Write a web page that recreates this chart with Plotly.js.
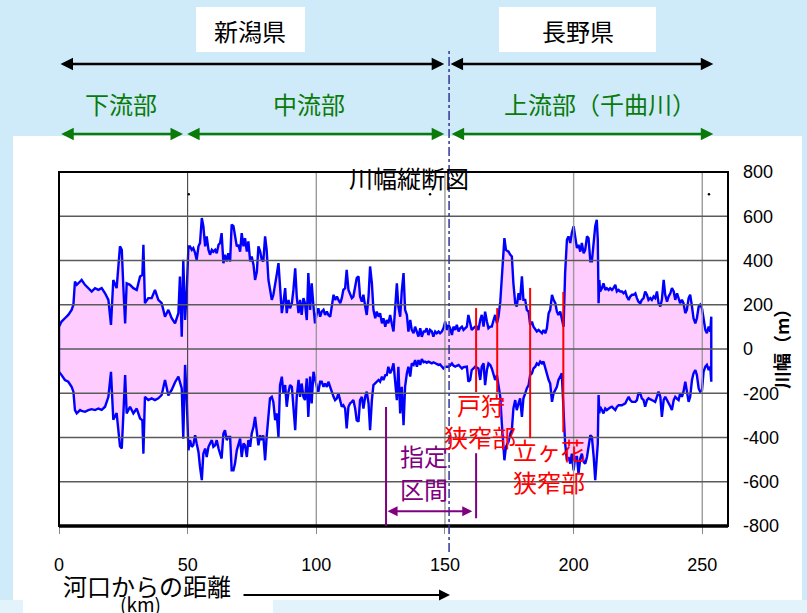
<!DOCTYPE html>
<html><head><meta charset="utf-8">
<script src="https://cdn.plot.ly/plotly-3.0.1.min.js"></script>
<style>html,body{margin:0;padding:0;background:#CFEBFA;}#chart{width:807px;height:613px;}</style>
</head><body><div id="chart"></div>
<script>
// distance from river mouth (km)
const riverKm = [
0.0,1.0,2.3,3.6,4.9,5.6,6.2,6.9,8.2,8.8,10.1,11.4,12.7,14.0,15.3,16.6,17.9,19.2,20.2,21.1,22.4,23.7,24.4,25.0,25.7,26.3,27.6,28.9,30.2,31.5,32.4,32.8,33.4,34.7,36.0,37.3,38.6,39.9,41.2,42.5,43.8,45.1,46.4,47.0,47.7,48.3,49.0,49.6,50.3,
50.9,51.6,52.2,52.9,53.5,54.2,54.8,55.5,56.1,56.8,57.4,58.1,58.7,59.4,60.0,60.7,61.3,62.0,62.6,63.2,63.9,64.5,65.2,65.8,66.5,67.1,67.8,68.4,69.1,69.7,70.4,71.0,71.7,72.3,73.0,73.6,74.3,74.9,75.6,76.2,76.9,77.5,78.2,78.8,79.4,80.1,80.7,81.4,82.0,82.7,83.3,84.0,84.6,85.3,85.9,86.6,87.2,87.9,88.5,89.2,89.8,90.5,91.1,91.8,92.4,93.1,93.7,94.3,95.0,95.6,96.3,96.9,97.6,98.2,98.9,99.5,
100.2,100.8,101.5,102.1,102.8,103.4,104.1,104.7,105.4,106.0,106.7,107.3,108.0,108.6,109.3,109.9,110.5,111.2,111.8,112.5,113.1,113.8,114.4,115.1,115.7,116.4,117.0,117.7,118.3,119.0,119.6,120.3,120.9,121.6,122.2,122.9,123.5,124.2,124.8,125.5,126.1,126.8,127.4,128.0,128.7,129.3,130.0,130.6,131.3,131.9,132.6,133.2,133.9,134.5,135.2,135.8,136.5,137.1,137.8,138.4,139.1,139.7,140.4,141.0,141.7,142.3,142.9,143.6,144.2,144.9,145.5,146.2,146.8,147.5,148.1,148.8,149.4,150.1,150.7,
151.4,152.0,152.7,153.3,154.0,154.6,155.3,155.9,156.6,157.2,157.9,158.5,159.1,159.8,160.4,161.1,161.7,162.4,163.0,163.7,164.3,165.0,165.6,166.3,166.9,167.6,168.2,168.9,169.5,170.2,170.8,171.5,172.1,172.8,173.1,173.7,174.7,175.4,176.0,176.6,177.3,177.9,178.6,179.2,179.9,180.5,181.2,181.8,182.5,183.1,183.8,184.4,185.1,185.7,186.4,187.0,187.7,188.3,189.0,189.6,190.3,190.9,191.6,192.2,192.9,193.5,194.1,194.8,195.4,196.1,196.7,197.4,198.0,198.7,199.3,200.0,200.6,
201.3,201.9,202.6,203.2,203.9,204.5,205.2,205.8,206.5,207.1,207.8,208.4,209.0,209.4,209.7,210.0,210.3,211.0,211.6,212.3,212.9,213.6,214.2,214.9,215.5,216.2,216.8,217.5,218.1,218.8,219.4,220.1,220.7,221.4,222.0,222.7,223.3,224.0,224.6,225.2,225.9,226.5,227.2,227.8,228.5,229.1,229.8,230.4,231.1,231.7,232.4,233.0,233.7,234.3,235.0,235.6,236.3,236.9,237.6,238.2,238.9,239.5,240.2,240.8,241.4,242.1,242.7,243.4,244.0,244.7,245.3,246.0,246.6,247.3,247.9,248.6,249.2,249.9,250.5,251.2,251.8,252.5,253.1,253.5
];
// upper half of river width (m)
const upperWidth = [
101,124,139,154,177,200,305,290,305,312,290,275,260,275,267,275,252,222,109,312,275,464,448,282,116,297,290,275,267,328,335,471,207,230,230,267,222,207,146,177,139,116,162,328,56,403,131,252,464,
464,448,456,433,403,464,479,592,555,464,509,448,426,448,440,448,433,471,479,524,388,426,396,433,396,562,555,516,464,471,440,524,464,501,440,486,396,418,380,312,350,464,440,403,396,509,448,312,260,222,244,305,335,388,267,162,207,275,162,222,184,207,267,365,237,162,222,154,230,207,131,343,177,297,192,116,
162,184,146,169,177,154,169,154,146,192,245,222,237,222,207,230,267,275,358,267,252,230,237,282,320,328,237,214,245,192,154,237,373,297,177,139,169,146,162,116,139,101,131,116,154,116,79,177,297,192,146,260,343,177,154,79,131,86,71,101,71,56,94,55,79,79,94,63,86,79,56,79,71,79,71,79,94,124,86,
109,94,63,101,86,109,79,94,101,86,94,101,154,116,86,94,101,101,86,131,154,101,169,124,94,101,101,131,154,116,146,214,328,418,501,448,440,426,418,297,207,192,252,222,328,222,222,177,169,109,124,101,86,79,86,79,71,86,71,94,162,177,245,222,207,169,154,169,131,101,343,494,509,479,524,555,509,
456,471,440,479,433,448,509,501,396,396,494,555,584,494,207,312,260,275,297,267,275,267,275,267,275,290,260,267,260,260,252,260,237,222,237,245,245,252,230,214,207,222,230,260,245,222,230,222,237,230,260,207,192,222,313,245,214,237,252,275,260,222,252,230,207,222,207,162,177,230,245,192,139,116,139,192,200,184,131,86,71,101,79,146
];
// lower half of river width (m)
const lowerWidth = [
-103,-118,-140,-148,-171,-193,-276,-291,-276,-280,-284,-276,-272,-276,-269,-275,-261,-216,-103,-320,-290,-440,-450,-300,-118,-291,-261,-291,-269,-314,-322,-473,-216,-231,-223,-231,-223,-208,-140,-210,-185,-150,-125,-150,-178,-405,-72,-216,-458,
-412,-442,-435,-390,-427,-465,-533,-593,-473,-450,-488,-442,-427,-412,-442,-435,-412,-450,-473,-495,-382,-367,-412,-397,-397,-548,-548,-518,-458,-435,-405,-488,-427,-435,-488,-412,-442,-382,-352,-307,-382,-435,-390,-412,-390,-503,-397,-291,-223,-216,-239,-322,-291,-397,-163,-125,-201,-163,-261,-193,-163,-171,-261,-367,-216,-140,-216,-156,-216,-231,-133,-307,-125,-246,-103,-125,
-171,-193,-148,-148,-171,-156,-171,-148,-171,-193,-216,-231,-223,-201,-231,-261,-254,-269,-359,-261,-246,-239,-231,-269,-322,-328,-231,-216,-269,-216,-193,-246,-367,-231,-163,-156,-148,-140,-148,-125,-140,-118,-118,-80,-110,-95,-65,-148,-231,-80,-291,-171,-344,-171,-110,-80,-125,-65,-72,-50,-80,-50,-72,-45,-60,-57,-62,-57,-62,-65,-60,-65,-68,-72,-70,-80,-88,-80,-80,
-80,-75,-65,-75,-80,-76,-72,-80,-88,-82,-80,-80,-148,-140,-95,-88,-80,-84,-88,-140,-80,-65,-163,-95,-65,-72,-88,-110,-140,-118,-171,-216,-337,-435,-503,-442,-420,-382,-367,-269,-231,-276,-246,-223,-307,-223,-201,-178,-163,-118,-110,-88,-80,-65,-72,-57,-65,-57,-80,-110,-140,-156,-239,-201,-186,-171,-140,-125,-110,-276,-427,-503,-488,-518,-473,-548,-488,
-488,-563,-495,-473,-510,-518,-488,-442,-390,-397,-488,-593,-520,-427,-208,-291,-261,-276,-291,-269,-276,-269,-265,-261,-268,-276,-262,-254,-254,-254,-250,-246,-231,-216,-231,-239,-239,-239,-231,-201,-201,-223,-231,-261,-231,-223,-226,-231,-235,-239,-215,-193,-216,-307,-231,-216,-230,-246,-260,-276,-231,-216,-225,-231,-201,-216,-193,-148,-186,-239,-216,-140,-110,-95,-118,-178,-193,-186,-103,-80,-72,-95,-80,-148
];
const tickKm = [0,50,100,150,200,250];
const tickWidth = [-800,-600,-400,-200,0,200,400,600,800];
const dotKm = [50.4,144.2,252.6];
const dotWidth = [700,700,700];
const prefNames = ['新潟県','長野県'];
const prefSpans = [[0,149.7],[151.6,254.3]];
const prefBoundaryKm = 151.6;
const reachNames = ['下流部','中流部','上流部（千曲川）'];
const reachSpans = [[0.3,48.2],[49.2,149.7],[152.0,254.3]];
const narrowKm = [162.1,170.3,183.1,196.0];
const narrowTop = [185,185,276,258];
const narrowBottom = [-195,-195,-403,-376];
const designatedKm = [127.1,162.1];
const designatedLineTop = [-262,-471];
const designatedLineBottom = [-800,-765];
const designatedArrowWidth = -733;

// layout geometry
const W = 807, H = 613, M = {l:59, r:79, t:172, b:87};
const pw = W - M.l - M.r, ph = H - M.t - M.b;
const fx = p => (p - M.l) / pw;
const fy = p => (H - M.b - p) / ph;

const JP = '"Noto Sans CJK JP", "Noto Sans", sans-serif';
const NUM = '"Liberation Sans Narrow", "Arial Narrow", Arial, "Liberation Sans", sans-serif';

const polyX = riverKm.concat(riverKm.slice().reverse(), [riverKm[0]]);
const polyY = upperWidth.concat(lowerWidth.slice().reverse(), [upperWidth[0]]);

const traces = [
  {type:'scatter', mode:'lines', x:polyX, y:polyY, fill:'toself', fillcolor:'#FFCCFF',
   line:{color:'#0000FF', width:2.4}, hoverinfo:'skip', showlegend:false},
  {type:'scatter', mode:'markers', x:dotKm, y:dotWidth, marker:{color:'#000', size:2.5},
   hoverinfo:'skip', showlegend:false}
];

const shapes = [];
// backgrounds
shapes.push({type:'rect', xref:'paper', yref:'paper', x0:fx(0), x1:fx(W), y0:fy(600), y1:fy(H), fillcolor:'#E3F3FC', line:{width:0}, layer:'below'});
shapes.push({type:'rect', xref:'paper', yref:'paper', x0:fx(13), x1:fx(802), y0:fy(600), y1:fy(136), fillcolor:'#FFFFFF', line:{width:0}, layer:'below'});
shapes.push({type:'rect', xref:'paper', yref:'paper', x0:fx(23), x1:fx(273), y0:fy(613), y1:fy(600), fillcolor:'#FFFFFF', line:{width:0}, layer:'below'});
shapes.push({type:'rect', xref:'paper', yref:'paper', x0:fx(196), x1:fx(305), y0:fy(52), y1:fy(7), fillcolor:'#FFFFFF', line:{width:0}, layer:'below'});
shapes.push({type:'rect', xref:'paper', yref:'paper', x0:fx(499), x1:fx(656), y0:fy(52), y1:fy(7), fillcolor:'#FFFFFF', line:{width:0}, layer:'below'});
// grid lines over the fill
tickKm.forEach(k => {
  if (k === 0) return;
  shapes.push({type:'line', xref:'x', yref:'paper', x0:k, x1:k, y0:0, y1:1,
    line:{color: k === 50 ? '#303030' : '#9a9a9a', width: k === 50 ? 1 : 1.4}, layer:'above'});
});
tickWidth.forEach(v => {
  if (v === 800 || v === -800) return;
  shapes.push({type:'line', xref:'paper', yref:'y', x0:0, x1:1, y0:v, y1:v,
    line:{color:'#5a5a5a', width:1.4}, layer:'above'});
});
// frame
shapes.push({type:'rect', xref:'paper', yref:'paper', x0:0, x1:1, y0:0, y1:1, line:{color:'#000', width:2}, layer:'above'});
shapes.push({type:'line', xref:'paper', yref:'paper', x0:0, x1:1, y0:0, y1:0, line:{color:'#000', width:3.5}, layer:'above'});
// prefecture boundary
shapes.push({type:'line', xref:'x', yref:'paper', x0:prefBoundaryKm, x1:prefBoundaryKm, y0:fy(552), y1:fy(48),
  line:{color:'#333399', width:1.5, dash:'dashdot'}, layer:'above'});
// narrow sections
narrowKm.forEach((k,i) => {
  shapes.push({type:'line', xref:'x', yref:'y', x0:k, x1:k, y0:narrowBottom[i], y1:narrowTop[i],
    line:{color:'#FF0000', width:2}, layer:'above'});
});
// designated section
designatedKm.forEach((k,i) => {
  shapes.push({type:'line', xref:'x', yref:'y', x0:k, x1:k, y0:designatedLineBottom[i], y1:designatedLineTop[i],
    line:{color:'#800080', width:2}, layer:'above'});
});

const annotations = [];
const txt = (text, x, y, size, color, extra) => Object.assign({
  text, xref:'paper', yref:'paper', x:fx(x), y:fy(y), xanchor:'center', yanchor:'middle',
  showarrow:false, font:{family:JP, size, color}}, extra || {});
prefNames.forEach((n,i) => annotations.push(txt(n, [250,578][i], 30, 24, '#000')));
prefSpans.forEach(s => annotations.push({text:'', xref:'x', yref:'paper', x:s[1], y:fy(64),
  axref:'x', ax:s[0], ayref:'pixel', ay:0, showarrow:true, arrowhead:2, arrowside:'end+start',
  arrowsize:1, arrowwidth:2.5, arrowcolor:'#000', standoff:0, startstandoff:0}));
reachNames.forEach((n,i) => annotations.push(txt(n, [121,309,600][i], 103, 24, '#0A7A0A')));
reachSpans.forEach(s => annotations.push({text:'', xref:'x', yref:'paper', x:s[1], y:fy(134),
  axref:'x', ax:s[0], ayref:'pixel', ay:0, showarrow:true, arrowhead:2, arrowside:'end+start',
  arrowsize:1, arrowwidth:2.5, arrowcolor:'#0A7A0A', standoff:0, startstandoff:0}));
annotations.push(txt('川幅縦断図', 409, 177, 24, '#000'));
annotations.push(txt('河口からの距離', 147, 585, 24, '#000'));
annotations.push(txt('(km)', 140, 603, 19, '#000'));
annotations.push({text:'', xref:'paper', yref:'paper', x:fx(450), y:fy(595), ax:-208, ay:0,
  showarrow:true, arrowhead:2, arrowside:'end', arrowsize:1, arrowwidth:2.2, arrowcolor:'#000', standoff:0});
annotations.push(txt('川幅（m）', 781, 345, 18, '#000', {textangle:-90, font:{family:JP, size:18, color:'#000', weight:'bold'}}));
annotations.push(txt('戸狩', 481, 404, 24, '#FF0000'));
annotations.push(txt('狭窄部', 480, 436, 24, '#FF0000'));
annotations.push(txt('立ヶ花', 549, 449, 24, '#FF0000'));
annotations.push(txt('狭窄部', 549, 481, 24, '#FF0000'));
annotations.push(txt('指定', 424, 455, 24, '#800080'));
annotations.push(txt('区間', 424, 488, 24, '#800080'));
annotations.push({text:'', xref:'x', yref:'y', x:designatedKm[1]-1.5, y:designatedArrowWidth,
  axref:'x', ax:designatedKm[0], ayref:'pixel', ay:0, showarrow:true, arrowhead:2, arrowside:'end+start',
  arrowsize:1, arrowwidth:2, arrowcolor:'#800080', standoff:0, startstandoff:0});

const layout = {
  width:W, height:H, margin:{l:M.l, r:M.r, t:M.t, b:M.b, autoexpand:false},
  paper_bgcolor:'#CFEBFA', plot_bgcolor:'#FFFFFF', showlegend:false,
  xaxis:{range:[0,260], tickvals:tickKm, ticktext:tickKm.map(String), showgrid:false, zeroline:false,
    showline:false, ticks:'outside', ticklen:7, tickcolor:'#888', tickwidth:1,
    tickfont:{family:NUM, size:18, color:'#000'}, ticklabelstandoff:15, automargin:false, fixedrange:true},
  yaxis:{range:[-800,800], side:'right', tickvals:tickWidth, ticktext:tickWidth.map(String),
    showgrid:false, zeroline:false, showline:false, ticks:'',
    tickfont:{family:NUM, size:18, color:'#000'}, ticklabelstandoff:14, automargin:false, fixedrange:true},
  shapes, annotations
};
Plotly.newPlot('chart', traces, layout, {displayModeBar:false, staticPlot:true});
</script></body></html>
